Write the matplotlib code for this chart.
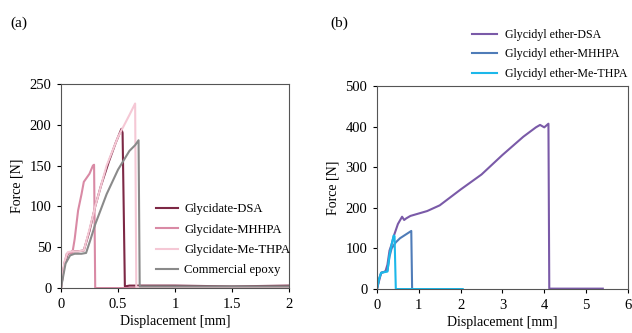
import numpy as np
import matplotlib.pyplot as plt
import matplotlib

matplotlib.rcParams['font.family'] = ['Liberation Serif', 'DejaVu Serif']
matplotlib.rcParams['font.size'] = 10

# (a) glycidate systems
a_dsa_x = [0, 0.03, 0.06, 0.1, 0.15, 0.2, 0.25, 0.3, 0.35, 0.42, 0.48, 0.53, 0.54, 0.56, 0.6, 1.0, 1.5, 2.0]
a_dsa_y = [0, 30, 42, 45, 45, 46, 70, 100, 125, 155, 178, 195, 190, 2, 3, 3, 2, 3]
a_mhhpa_x = [0, 0.03, 0.05, 0.1, 0.12, 0.15, 0.18, 0.2, 0.25, 0.28, 0.29, 0.3, 0.6, 2.0]
a_mhhpa_y = [0, 30, 42, 43, 60, 95, 115, 130, 140, 150, 151, 0, 0, 0]
a_methpa_x = [0, 0.03, 0.06, 0.1, 0.15, 0.2, 0.25, 0.3, 0.4, 0.5, 0.6, 0.65, 0.66, 0.7, 1.0, 1.5, 2.0]
a_methpa_y = [0, 32, 44, 45, 45, 46, 72, 100, 150, 185, 212, 226, 1, 1, 1, 1, 1]
a_comm_x = [0, 0.04, 0.08, 0.12, 0.18, 0.22, 0.26, 0.3, 0.4, 0.5, 0.6, 0.65, 0.68, 0.69, 0.75, 1.0, 1.5, 2.0]
a_comm_y = [0, 30, 40, 42, 42, 43, 60, 78, 115, 145, 168, 175, 181, 2, 2, 2, 2, 2]

# (b) glycidyl ether systems
b_dsa_x = [0, 0.05, 0.1, 0.2, 0.25, 0.3, 0.35, 0.4, 0.5, 0.6, 0.65, 0.7, 0.8, 1.0, 1.2, 1.5, 2.0,
           2.5, 3.0, 3.5, 3.8, 3.9, 4.0, 4.1, 4.12, 4.2, 5.4]
b_dsa_y = [0, 20, 40, 43, 60, 95, 110, 130, 160, 178, 170, 174, 180, 186, 192, 206, 245,
           282, 330, 375, 398, 404, 398, 407, 1, 1, 1]
b_mhhpa_x = [0, 0.05, 0.1, 0.25, 0.3, 0.35, 0.45, 0.55, 0.7, 0.82, 0.84, 1.0]
b_mhhpa_y = [0, 25, 40, 45, 80, 100, 115, 125, 135, 143, 0, 0]
b_methpa_x = [0, 0.05, 0.1, 0.25, 0.3, 0.35, 0.4, 0.42, 0.45, 1.0, 2.05]
b_methpa_y = [0, 25, 40, 43, 85, 110, 132, 130, 0, 0, 0]

fig = plt.figure(figsize=(6.32, 3.33), dpi=100)

ax1 = fig.add_axes([0.0965, 0.135, 0.361, 0.613])
ax1.plot(a_dsa_x, a_dsa_y, color='#7d2845', lw=1.5, label='Glycidate-DSA')
ax1.plot(a_mhhpa_x, a_mhhpa_y, color='#d98aa5', lw=1.5, label='Glycidate-MHHPA')
ax1.plot(a_methpa_x, a_methpa_y, color='#f5c8d5', lw=1.5, label='Glycidate-Me-THPA')
ax1.plot(a_comm_x, a_comm_y, color='#8a8a8a', lw=1.5, label='Commercial epoxy')
ax1.set_xlim(0, 2)
ax1.set_ylim(0, 250)
ax1.set_xticks([0, 0.5, 1, 1.5, 2])
ax1.set_xticklabels(['0', '0.5', '1', '1.5', '2'])
ax1.set_yticks(np.arange(0, 251, 50))
ax1.set_xlabel('Displacement [mm]', labelpad=3)
ax1.set_ylabel('Force [N]')
ax1.legend(loc='upper left', bbox_to_anchor=(150 / 632, 1 - 197 / 333), bbox_transform=fig.transFigure,
           frameon=False, fontsize=9.1, handlelength=1.75, handletextpad=0.45,
           labelspacing=0.66, borderpad=0)
fig.text(10 / 632, 1 - 27 / 333, '(a)', fontsize=11)

ax2 = fig.add_axes([0.5965, 0.132, 0.397, 0.61])
ax2.plot(b_dsa_x, b_dsa_y, color='#7a5aa8', lw=1.5, label='Glycidyl ether-DSA')
ax2.plot(b_mhhpa_x, b_mhhpa_y, color='#4f7cb8', lw=1.5, label='Glycidyl ether-MHHPA')
ax2.plot(b_methpa_x, b_methpa_y, color='#1cb8ea', lw=1.5, label='Glycidyl ether-Me-THPA')
ax2.set_xlim(0, 6)
ax2.set_ylim(0, 500)
ax2.set_xticks(range(0, 7))
ax2.set_yticks(np.arange(0, 501, 100))
ax2.set_xlabel('Displacement [mm]', labelpad=3)
ax2.set_ylabel('Force [N]')
ax2.legend(loc='upper left', bbox_to_anchor=(466 / 632, 1 - 23 / 333), bbox_transform=fig.transFigure,
           frameon=False, fontsize=8.6, handlelength=2.1, handletextpad=0.65,
           labelspacing=0.62, borderpad=0)
fig.text(330 / 632, 1 - 27 / 333, '(b)', fontsize=11)

for ax in (ax1, ax2):
    ax.tick_params(direction='out', length=3, labelsize=10.5, pad=4)
    for s in ax.spines.values():
        s.set_color('#555555')

plt.savefig('out.png', dpi=100)
